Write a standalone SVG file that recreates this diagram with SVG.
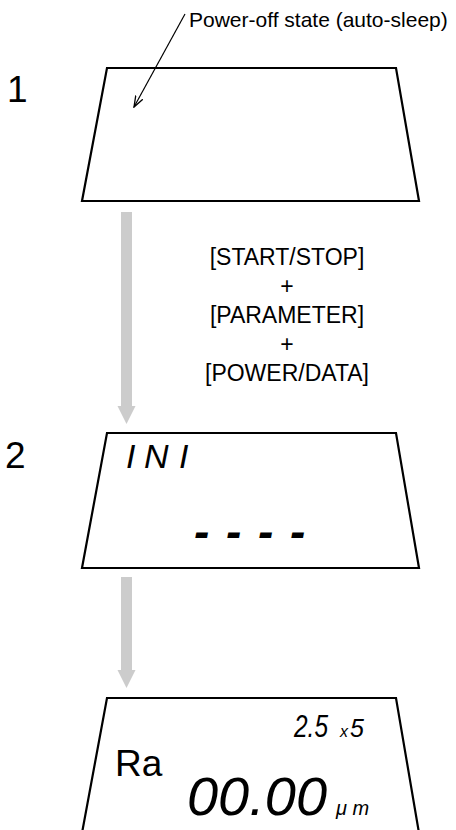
<svg xmlns="http://www.w3.org/2000/svg" width="456" height="830" viewBox="0 0 456 830">
<defs>
<marker id="barb" viewBox="0 0 12 10" refX="11" refY="5" markerWidth="12" markerHeight="10" markerUnits="userSpaceOnUse" orient="auto">
<path d="M0,1 L11,5 L0,9" fill="none" stroke="#000" stroke-width="1.3"/>
</marker>
<style>
.frame{fill:#fff;stroke:#000;stroke-width:2.2;stroke-linejoin:miter}
.step{font-family:"Liberation Sans",Arial,sans-serif;font-size:37px;fill:#000}
.lbl{font-family:"Liberation Sans",Arial,sans-serif;font-size:21px;fill:#000}
.ra{font-family:"Liberation Sans",Arial,sans-serif;font-size:37px;fill:#000}
.keys{font-family:"Liberation Sans",Arial,sans-serif;font-size:23px;fill:#000;text-anchor:middle}
.seg{font-family:"Liberation Sans",Arial,sans-serif;font-style:italic;fill:#000}
.flow{fill:#cccccc;stroke:none}
</style>
</defs>
<rect width="456" height="830" fill="#fff"/>

<g id="step-labels">
<text class="step" x="7" y="102">1</text>
<text class="step" x="5" y="468">2</text>
</g>

<g id="node-1">
<polygon class="frame" points="107,68 396,68 419,201 82,201"/>
</g>

<g id="node-2">
<polygon class="frame" points="107,433 396,433 419,568 82,568"/>
<text class="seg" font-size="34" x="126 144 179" y="468">INI</text>
<text class="seg" font-size="46" font-weight="bold" x="194 226 258 290" y="547">----</text>
</g>

<g id="node-3">
<polygon class="frame" points="107,698 396,698 419,833 82,833"/>
<text class="ra" x="115" y="776">Ra</text>
<text class="seg" font-size="32" x="294" y="737" textLength="34" lengthAdjust="spacingAndGlyphs">2.5</text>
<text class="seg" font-size="16" x="340" y="737">x</text>
<text class="seg" font-size="25" x="350" y="737">5</text>
<text class="seg" font-size="54" x="187" y="815" textLength="140" lengthAdjust="spacingAndGlyphs">00.00</text>
<text class="seg" font-size="20" x="336" y="815">μ m</text>
</g>

<g id="connectors">
<polygon class="flow" points="121,212 132,212 132,406 135.5,406 126.5,424 117.5,406 121,406"/>
<polygon class="flow" points="121,577 132,577 132,670 135.5,670 126.5,688 117.5,670 121,670"/>
<line x1="185" y1="14" x2="134" y2="107" stroke="#000" stroke-width="1.2" marker-end="url(#barb)"/>
</g>

<g id="annotations">
<text class="lbl" x="189" y="27">Power-off state (auto-sleep)</text>
<text class="keys" x="287" y="265">[START/STOP]</text>
<text class="keys" x="287" y="294">+</text>
<text class="keys" x="287" y="323">[PARAMETER]</text>
<text class="keys" x="287" y="352">+</text>
<text class="keys" x="287" y="381">[POWER/DATA]</text>
</g>
</svg>
